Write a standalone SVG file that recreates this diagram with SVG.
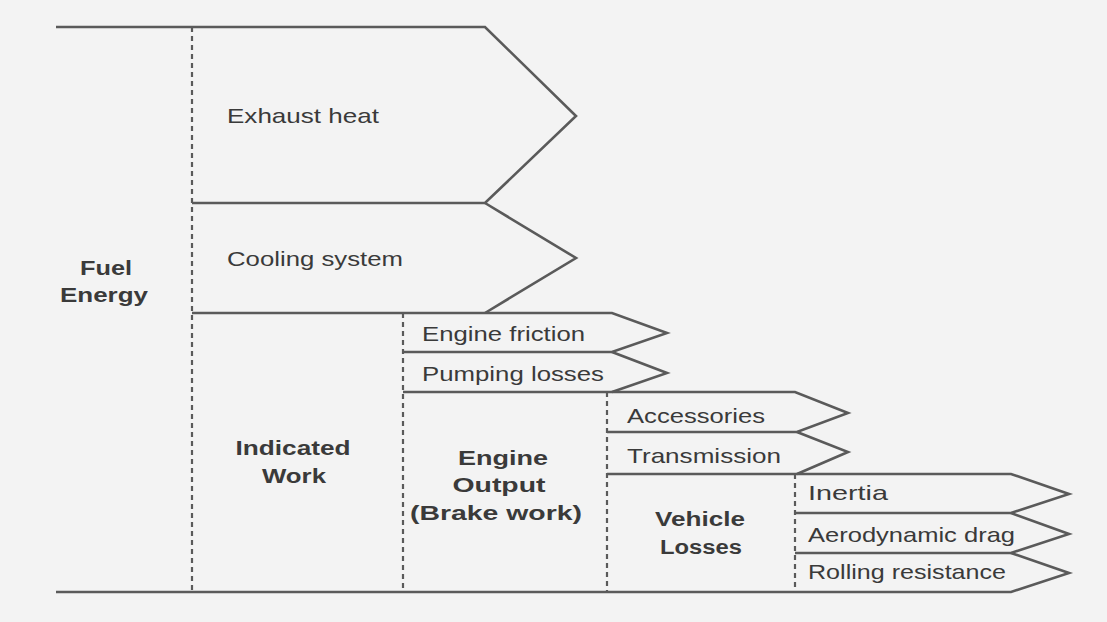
<svg xmlns="http://www.w3.org/2000/svg" width="1107" height="622" viewBox="0 0 1107 622">
  <style>
    .bg { fill: #f3f3f3; }
    .edge { fill: none; stroke: #5a5a5a; stroke-width: 2.6; stroke-linejoin: miter; }
    .div { fill: none; stroke: #5a5a5a; stroke-width: 2.2; stroke-dasharray: 5 4; }
    .lbl { font-family: "Liberation Sans", Arial, sans-serif; font-size: 21px; fill: #3a3a3a; }
    .hd { font-family: "Liberation Sans", Arial, sans-serif; font-size: 20px; font-weight: bold; fill: #3a3a3a; text-anchor: middle; }
  </style>
  <rect class="bg" x="0" y="0" width="1107" height="622"/>

  <!-- arrows / flow outlines -->
  <g id="connectors">
    <path class="edge" d="M56 27 H485 L576 116 L485 203 H192"/>
    <path class="edge" d="M485 203 L576 258 L485 313"/>
    <path class="edge" d="M192 313 H612 L667 333 L612 352 H403"/>
    <path class="edge" d="M612 352 L667 373 L612 392"/>
    <path class="edge" d="M403 392 H795 L848 413 L797 432 H607"/>
    <path class="edge" d="M797 432 L848 452 L797 474"/>
    <path class="edge" d="M607 474 H1011 L1069 494 L1011 513 H795"/>
    <path class="edge" d="M1011 513 L1069 534 L1011 553 H795"/>
    <path class="edge" d="M1011 553 L1069 573 L1011 592 H56"/>
    <!-- dashed dividers -->
    <path class="div" d="M192 27 V592"/>
    <path class="div" d="M403 313 V592"/>
    <path class="div" d="M607 392 V592"/>
    <path class="div" d="M795 474 V592"/>
  </g>

  <g id="fuel-energy">
    <text class="hd" x="106" y="275" textLength="52" lengthAdjust="spacingAndGlyphs">Fuel</text>
    <text class="hd" x="104" y="302" textLength="88" lengthAdjust="spacingAndGlyphs">Energy</text>
  </g>
  <g id="exhaust-heat">
    <text class="lbl" x="227" y="123" textLength="152" lengthAdjust="spacingAndGlyphs">Exhaust heat</text>
  </g>
  <g id="cooling-system">
    <text class="lbl" x="227" y="266" textLength="176" lengthAdjust="spacingAndGlyphs">Cooling system</text>
  </g>
  <g id="indicated-work">
    <text class="hd" x="293" y="455" textLength="115" lengthAdjust="spacingAndGlyphs">Indicated</text>
    <text class="hd" x="294" y="483" textLength="64" lengthAdjust="spacingAndGlyphs">Work</text>
  </g>
  <g id="engine-friction">
    <text class="lbl" x="422" y="341" textLength="163" lengthAdjust="spacingAndGlyphs">Engine friction</text>
  </g>
  <g id="pumping-losses">
    <text class="lbl" x="422" y="381" textLength="182" lengthAdjust="spacingAndGlyphs">Pumping losses</text>
  </g>
  <g id="engine-output">
    <text class="hd" x="503" y="465" textLength="90" lengthAdjust="spacingAndGlyphs">Engine</text>
    <text class="hd" x="499" y="492" textLength="93" lengthAdjust="spacingAndGlyphs">Output</text>
    <text class="hd" x="496" y="520" textLength="172" lengthAdjust="spacingAndGlyphs">(Brake work)</text>
  </g>
  <g id="accessories">
    <text class="lbl" x="627" y="423" textLength="138" lengthAdjust="spacingAndGlyphs">Accessories</text>
  </g>
  <g id="transmission">
    <text class="lbl" x="627" y="463" textLength="154" lengthAdjust="spacingAndGlyphs">Transmission</text>
  </g>
  <g id="vehicle-losses">
    <text class="hd" x="700" y="526" textLength="90" lengthAdjust="spacingAndGlyphs">Vehicle</text>
    <text class="hd" x="701" y="554" textLength="82" lengthAdjust="spacingAndGlyphs">Losses</text>
  </g>
  <g id="inertia">
    <text class="lbl" x="808" y="500" textLength="80" lengthAdjust="spacingAndGlyphs">Inertia</text>
  </g>
  <g id="aerodynamic-drag">
    <text class="lbl" x="808" y="542" textLength="207" lengthAdjust="spacingAndGlyphs">Aerodynamic drag</text>
  </g>
  <g id="rolling-resistance">
    <text class="lbl" x="808" y="579" textLength="198" lengthAdjust="spacingAndGlyphs">Rolling resistance</text>
  </g>
</svg>
